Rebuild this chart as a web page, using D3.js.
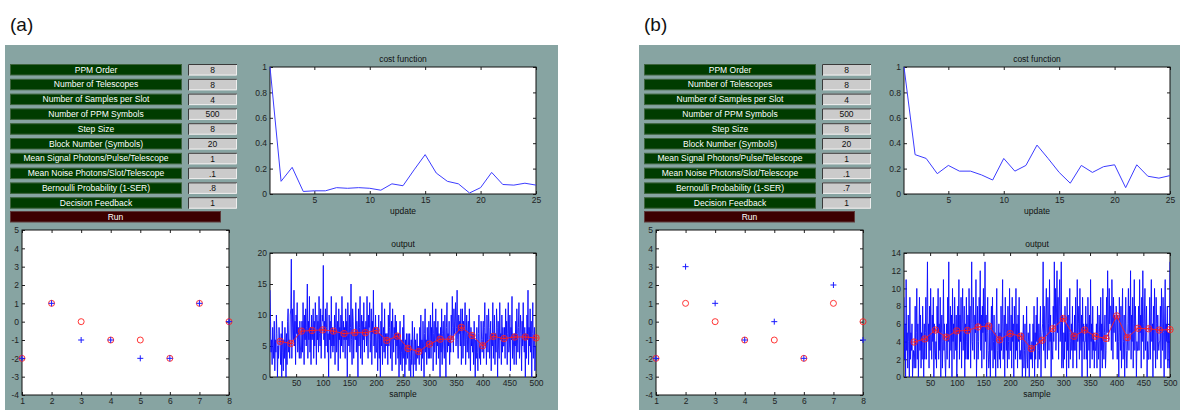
<!DOCTYPE html>
<html>
<head>
<meta charset="utf-8">
<script src="https://cdn.jsdelivr.net/npm/d3@7.9.0/dist/d3.min.js"></script>
<style>
  body { margin: 0; background: #fff; }
  svg { display: block; font-family: "Liberation Sans", Arial, sans-serif; }
  .tick text { font-family: "Liberation Sans", Arial, sans-serif; font-size: 8.5px; fill: #222; }
  .tick line { stroke: #222; }
</style>
</head>
<body>
<svg id="chart" width="1180" height="410"></svg>
<script>
// ---- data ----
const panelLabels = ["(a)", "(b)"];
const paramNames = ["PPM Order", "Number of Telescopes", "Number of Samples per Slot",
  "Number of PPM Symbols", "Step Size", "Block Number (Symbols)",
  "Mean Signal Photons/Pulse/Telescope", "Mean Noise Photons/Slot/Telescope",
  "Bernoulli Probability (1-SER)", "Decision Feedback"];
const paramValuesA = ["8", "8", "4", "500", "8", "20", "1", ".1", ".8", "1"];
const paramValuesB = ["8", "8", "4", "500", "8", "20", "1", ".1", ".7", "1"];

const updates = d3.range(1, 26);
const costA = [1.0, 0.10, 0.21, 0.02, 0.025, 0.025, 0.05, 0.045, 0.05, 0.045, 0.03, 0.08, 0.065,
  0.19, 0.31, 0.165, 0.10, 0.08, 0.008, 0.05, 0.17, 0.075, 0.07, 0.085, 0.07];
const costB = [1.0, 0.31, 0.28, 0.16, 0.225, 0.18, 0.18, 0.15, 0.11, 0.28, 0.18, 0.225, 0.385,
  0.28, 0.17, 0.085, 0.225, 0.17, 0.215, 0.23, 0.05, 0.23, 0.14, 0.125, 0.145];

const symbols = [1, 2, 3, 4, 5, 6, 7, 8];
const decidedA = [-2, 1, 0, -1, -1, -2, 1, 0];
const estimateA = [-2, 1, -1, -1, -2, -2, 1, 0];
const decidedB = [-2, 1, 0, -1, -1, -2, 1, 0];
const estimateB = [-2, 3, 1, -1, 0, -2, 2, -1];

const outputA = [
  14,9,4,6,2,8,5,3,9,1,6,4,10,7,0,5,3,8,6,5,
  2,7,0,9,4,1,6,3,8,5,0,7,2,9,11,4,6,3,10,11,
  19,3,11,8,6,14,5,9,2,10,7,12,4,8,6,3,9,5,3,4,
  9,4,12,7,2,10,6,11,5,8,15,3,9,6,13,4,8,2,10,6,
  7,11,3,9,5,12,8,2,10,6,9,4,13,7,5,11,3,8,10,9,
  18,6,9,3,11,5,8,12,4,7,0,10,6,9,3,13,5,8,4,7,
  5,10,2,8,12,4,7,9,1,11,6,8,3,10,5,13,7,4,9,6,
  8,3,11,6,9,0,12,7,5,10,4,8,15,6,2,11,9,3,7,7,
  6,12,4,9,7,0,11,5,8,13,3,7,10,2,9,6,12,4,8,7,
  9,5,13,7,3,10,8,12,4,6,11,2,9,7,14,5,8,3,10,4,
  4,8,1,6,10,3,7,0,9,5,12,2,6,8,4,11,3,7,5,7,
  7,2,10,5,8,12,3,6,9,1,11,7,4,8,6,10,2,9,5,7,
  3,7,0,5,9,2,6,4,1,8,3,10,5,0,6,2,7,4,3,7,
  5,1,7,3,0,6,2,9,4,0,5,8,2,6,1,4,7,3,5,4,
  2,8,4,10,1,6,3,9,5,0,7,11,4,6,2,8,5,3,9,3,
  6,10,3,8,5,12,1,7,9,4,6,11,2,8,5,9,3,7,6,0,
  8,4,11,2,7,9,5,3,10,6,0,8,12,4,7,5,9,2,6,4,
  10,6,13,8,4,11,7,9,12,5,8,14,6,3,10,7,9,5,11,2,
  7,11,3,9,5,8,12,2,6,10,4,7,9,3,11,6,1,8,5,7,
  4,7,2,9,5,0,6,3,8,4,1,7,10,3,5,2,9,6,4,6,
  9,3,8,12,5,7,2,10,6,4,11,8,3,6,9,1,7,5,12,3,
  6,10,2,7,4,11,8,0,9,5,3,12,6,7,2,10,4,8,5,5,
  8,3,11,6,9,2,7,12,4,5,10,1,8,6,13,3,7,5,2,7,
  5,9,2,11,7,4,8,12,3,6,10,7,1,9,5,12,6,4,8,0,
  7,3,10,6,14,2,8,5,11,4,9,0,7,12,3,6,8,1,5,5];
const outputB = [
  9,2,6,0,11,3,5,1,7,4,0,9,2,5,3,6,0,2,3,1,
  3,8,1,5,10,2,6,0,4,9,3,7,1,5,2,8,4,0,6,2,
  5,9,2,7,13,4,6,1,8,3,10,5,2,7,4,9,0,6,3,2,
  4,1,8,5,10,2,6,3,9,0,5,7,1,4,11,3,6,2,0,3,
  6,2,9,4,13,1,5,8,3,7,0,10,4,6,2,9,5,3,7,0,
  3,8,5,11,2,7,4,9,1,6,10,3,5,8,0,6,2,9,4,2,
  7,2,10,5,8,1,6,13,4,3,9,6,2,7,5,11,0,4,8,2,
  4,9,6,12,3,7,1,8,5,10,2,6,13,4,7,0,5,9,3,1,
  2,6,0,5,8,3,9,1,4,7,2,5,0,6,10,3,1,4,6,2,
  5,1,8,3,6,11,2,4,7,0,9,5,3,6,1,8,4,2,10,3,
  3,7,1,9,4,6,0,8,5,2,10,3,6,1,7,4,9,2,3,2,
  2,5,0,4,7,1,3,6,0,2,8,3,1,5,4,0,6,2,3,2,
  4,1,6,3,8,0,5,2,7,4,9,1,3,6,2,5,8,0,4,5,
  6,13,3,8,4,1,7,10,5,2,9,6,3,11,4,7,0,5,3,2,
  8,4,13,6,10,3,7,12,5,9,2,8,11,4,6,13,1,7,2,1,
  5,2,8,4,6,0,9,3,7,1,5,10,2,4,6,3,8,1,5,3,
  7,3,9,5,1,11,4,6,8,2,10,5,3,7,0,9,4,6,2,4,
  4,8,2,6,0,9,5,3,7,1,11,4,6,2,8,3,5,1,4,3,
  3,6,1,8,4,2,7,5,0,9,3,6,1,10,4,2,5,7,1,3,
  9,5,12,7,4,10,6,8,8,3,11,7,2,9,5,7,6,4,8,7,
  2,7,4,0,9,5,3,8,1,6,10,2,4,7,0,5,9,3,1,3,
  6,10,3,8,5,12,2,7,4,9,1,6,11,3,8,5,0,4,3,3,
  8,3,11,5,7,1,9,4,12,6,2,7,10,3,5,8,0,4,2,2,
  5,9,2,7,11,4,6,0,8,3,10,5,1,9,6,2,7,4,3,4,
  4,8,1,10,6,3,9,5,0,7,11,2,6,4,8,1,5,3,1,13];

const blockEnds = d3.range(20, 501, 20);
const blockMeanA = [5.75, 5.4, 7.4, 7.5, 7.6, 7.4, 7.0, 7.15, 7.15, 7.5, 5.9, 6.6, 4.6,
  4.1, 5.3, 6.1, 6.1, 8.0, 6.7, 5.05, 6.55, 6.2, 6.45, 6.45, 6.3];
const blockMeanB = [3.95, 4.3, 5.3, 4.5, 5.2, 5.25, 5.65, 5.75, 4.2, 4.9, 4.6, 3.2, 4.15,
  5.45, 6.6, 4.6, 5.3, 4.6, 4.35, 6.9, 4.45, 5.5, 5.45, 5.3, 5.35];

const outTicksA = [0, 5, 10, 15, 20];
const outTicksB = [0, 2, 4, 6, 8, 10, 12, 14];
const costXTicks = [5, 10, 15, 20, 25];
const costYTicks = [0, 0.2, 0.4, 0.6, 0.8, 1];
const sampleTicks = [50, 100, 150, 200, 250, 300, 350, 400, 450, 500];
const symbolYTicks = [-4, -3, -2, -1, 0, 1, 2, 3, 4, 5];

// ---- drawing ----
const svg = d3.select("#chart");
const num = d => String(+d.toFixed(1));

function frame(g, x, y, xt, yt, yfmt) {
  const [x0, x1] = x.range(), [y0, y1] = y.range();
  g.append("rect").attr("x", x0).attr("y", y1).attr("width", x1 - x0).attr("height", y0 - y1)
    .attr("fill", "#fff");
  const prep = a => a.tickSizeInner(-3).tickSizeOuter(0).tickPadding(3);
  g.append("g").attr("transform", `translate(0,${y0})`)
    .call(prep(d3.axisBottom(x).tickValues(xt).tickFormat(d => String(d))));
  g.append("g").attr("transform", `translate(0,${y1})`)
    .call(prep(d3.axisTop(x).tickValues(xt).tickFormat("")));
  g.append("g").attr("transform", `translate(${x0},0)`)
    .call(prep(d3.axisLeft(y).tickValues(yt).tickFormat(yfmt)));
  g.append("g").attr("transform", `translate(${x1},0)`)
    .call(prep(d3.axisRight(y).tickValues(yt).tickFormat("")));
  g.selectAll(".domain").remove();
  g.selectAll(".tick text").attr("font-size", null).attr("font-family", null);
  g.append("rect").attr("x", x0).attr("y", y1).attr("width", x1 - x0).attr("height", y0 - y1)
    .attr("fill", "none").attr("stroke", "#111").attr("stroke-width", 1);
}

function caption(g, x, y, txt) {
  g.append("text").attr("x", x).attr("y", y).attr("text-anchor", "middle")
    .attr("font-size", 8.5).attr("fill", "#111").text(txt);
}

function drawPanel(i, dx, values, cost, decided, estimate, output, means, outTicks) {
  svg.append("text").attr("x", 10 + dx).attr("y", 31).attr("font-size", 19).attr("fill", "#111")
    .text(panelLabels[i]);
  const g = svg.append("g").attr("transform", `translate(${dx},0)`);
  g.append("rect").attr("x", 5).attr("y", 45).attr("width", 553).attr("height", 365)
    .attr("fill", "#87a4a2");

  // control rows
  paramNames.forEach((name, k) => {
    const ry = 64 + k * 14.8;
    g.append("rect").attr("x", 10.5).attr("y", ry + 0.5).attr("width", 171).attr("height", 10.5)
      .attr("fill", "#003c00").attr("stroke", "#3d633d");
    g.append("text").attr("x", 96).attr("y", ry + 8.6).attr("text-anchor", "middle")
      .attr("font-size", 8.5).attr("fill", "#fff").text(name);
    g.append("rect").attr("x", 188).attr("y", ry).attr("width", 49).attr("height", 11.5)
      .attr("fill", "#cbcbcb");
    g.append("path").attr("d", `M188.5,${ry + 11.5}V${ry + 0.5}H237`).attr("fill", "none")
      .attr("stroke", "#3a3a3a");
    g.append("path").attr("d", `M189,${ry + 11}H236.5V${ry + 1}`).attr("fill", "none")
      .attr("stroke", "#efefef");
    g.append("text").attr("x", 212.5).attr("y", ry + 9).attr("text-anchor", "middle")
      .attr("font-size", 8.5).attr("fill", "#111").text(values[k]);
  });
  g.append("rect").attr("x", 10.5).attr("y", 211.5).attr("width", 210).attr("height", 10.5)
    .attr("fill", "#3c0000").attr("stroke", "#5e3a3a");
  g.append("text").attr("x", 115.5).attr("y", 219.8).attr("text-anchor", "middle")
    .attr("font-size", 8.5).attr("fill", "#fff").text("Run");

  // cost function
  const cx = d3.scaleLinear().domain([1, 25]).range([270, 536]);
  const cy = d3.scaleLinear().domain([0, 1]).range([194, 67]);
  frame(g, cx, cy, costXTicks, costYTicks, num);
  g.append("path").datum(cost)
    .attr("d", d3.line().x((d, k) => cx(updates[k])).y(d => cy(d)))
    .attr("fill", "none").attr("stroke", "#3c3cff").attr("stroke-width", 1);
  caption(g, 403, 62, "cost function");
  caption(g, 403, 214, "update");

  // symbol scatter
  const sx = d3.scaleLinear().domain([1, 8]).range([22, 229]);
  const sy = d3.scaleLinear().domain([-4, 5]).range([395, 230]);
  frame(g, sx, sy, symbols, symbolYTicks, d => String(d));
  g.selectAll(null).data(decided).join("circle")
    .attr("cx", (d, k) => sx(symbols[k])).attr("cy", d => sy(d)).attr("r", 3)
    .attr("fill", "none").attr("stroke", "#ff2020").attr("stroke-width", 0.9);
  g.selectAll(null).data(estimate).join("path")
    .attr("d", (d, k) => { const px = sx(symbols[k]), py = sy(d);
      return `M${px - 3},${py}H${px + 3}M${px},${py - 3}V${py + 3}`; })
    .attr("stroke", "#1a1aff").attr("stroke-width", 1);

  // output
  const ox = d3.scaleLinear().domain([1, 500]).range([270, 536]);
  const oy = d3.scaleLinear().domain([0, outTicks[outTicks.length - 1]]).range([377, 253]);
  frame(g, ox, oy, sampleTicks, outTicks, d => String(d));
  const clipId = "clip" + i;
  g.append("clipPath").attr("id", clipId).append("rect")
    .attr("x", 270).attr("y", 253).attr("width", 266).attr("height", 124);
  g.append("path").datum(output).attr("clip-path", `url(#${clipId})`)
    .attr("d", d3.line().x((d, k) => ox(k + 1)).y(d => oy(d)))
    .attr("fill", "none").attr("stroke", "#0a0aff").attr("stroke-width", 0.9);
  g.append("path").datum(means)
    .attr("d", d3.line().x((d, k) => ox(blockEnds[k])).y(d => oy(d)))
    .attr("fill", "none").attr("stroke", "#ff2020").attr("stroke-width", 0.9);
  g.selectAll(null).data(means).join("circle")
    .attr("cx", (d, k) => ox(blockEnds[k])).attr("cy", d => oy(d)).attr("r", 3.2)
    .attr("fill", "none").attr("stroke", "#ff2020").attr("stroke-width", 0.9);
  g.selectAll(null).data(means).join("path")
    .attr("d", (d, k) => { const px = ox(blockEnds[k]), py = oy(d);
      return `M${px - 2.5},${py}H${px + 2.5}M${px},${py - 2.5}V${py + 2.5}`; })
    .attr("stroke", "#ff2020").attr("stroke-width", 0.8);
  caption(g, 403, 247, "output");
  caption(g, 403, 397, "sample");
}

drawPanel(0, 0, paramValuesA, costA, decidedA, estimateA, outputA, blockMeanA, outTicksA);
drawPanel(1, 634, paramValuesB, costB, decidedB, estimateB, outputB, blockMeanB, outTicksB);
</script>
</body>
</html>
